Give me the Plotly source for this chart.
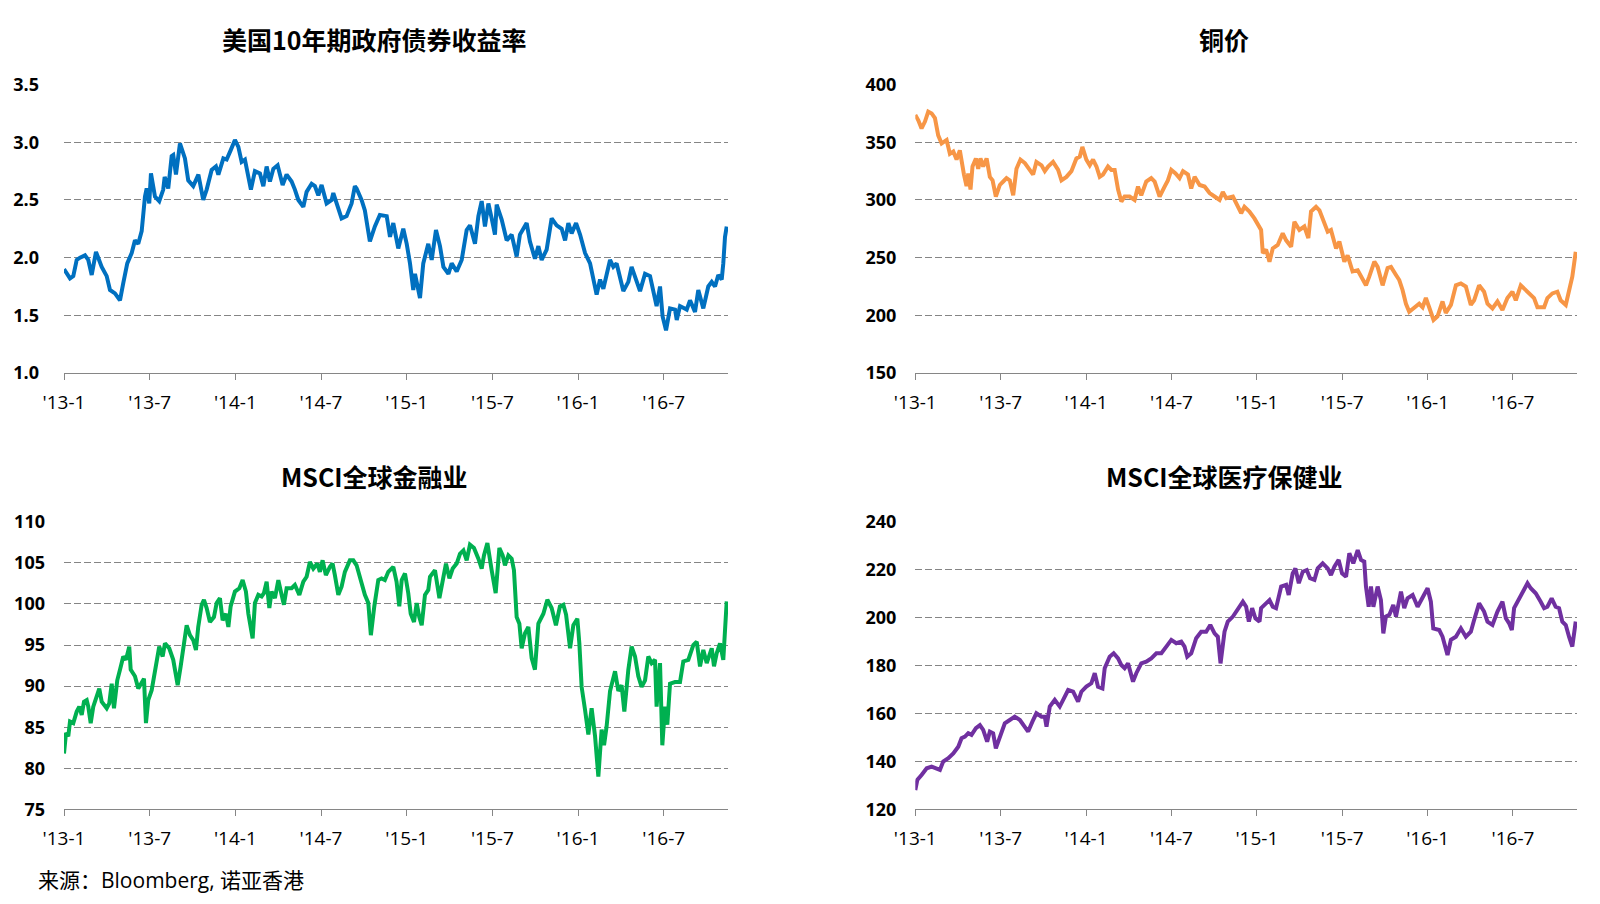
import plotly.graph_objects as go

# x positions are months since Jan 2013
tick_months = [0, 6, 12, 18, 24, 30, 36, 42]
tick_labels = ["'13-1", "'13-7", "'14-1", "'14-7", "'15-1", "'15-7", "'16-1", "'16-7"]

titles = ["美国10年期政府债券收益率", "铜价", "MSCI全球金融业", "MSCI全球医疗保健业"]
source_text = "来源：Bloomberg, 诺亚香港"

# US 10Y treasury yield (%)
yield_data = [
    (0, 1.90), (0.42, 1.82), (0.65, 1.84), (0.89, 1.98), (1.12, 2.00), (1.47, 2.02), (1.70, 1.98),
    (1.94, 1.85), (2.24, 2.05), (2.64, 1.92), (2.99, 1.84), (3.22, 1.72), (3.57, 1.69), (3.92, 1.63),
    (4.15, 1.78), (4.43, 1.95), (4.74, 2.04), (4.97, 2.15), (5.20, 2.12), (5.44, 2.23), (5.67, 2.53),
    (5.79, 2.60), (5.97, 2.47), (6.09, 2.73), (6.37, 2.53), (6.67, 2.49), (6.95, 2.59), (7.05, 2.70),
    (7.30, 2.60), (7.54, 2.88), (7.65, 2.89), (7.84, 2.72), (8.12, 2.99), (8.47, 2.86), (8.70, 2.67),
    (9.05, 2.62), (9.41, 2.72), (9.75, 2.50), (9.99, 2.59), (10.34, 2.76), (10.64, 2.79), (10.81, 2.72),
    (11.16, 2.86), (11.39, 2.85), (11.67, 2.93), (11.97, 3.02), (12.21, 2.96), (12.44, 2.83), (12.67, 2.85),
    (13.09, 2.59), (13.37, 2.75), (13.72, 2.73), (13.96, 2.62), (14.19, 2.79), (14.42, 2.66), (14.66, 2.77),
    (14.96, 2.80), (15.31, 2.63), (15.59, 2.72), (15.94, 2.66), (16.17, 2.59), (16.41, 2.50), (16.76, 2.44),
    (16.99, 2.57), (17.34, 2.64), (17.57, 2.62), (17.81, 2.54), (18.04, 2.63), (18.39, 2.47), (18.74, 2.50),
    (18.86, 2.56), (19.09, 2.46), (19.44, 2.34), (19.79, 2.36), (20.14, 2.47), (20.37, 2.62), (20.49, 2.60),
    (20.84, 2.50), (21.07, 2.41), (21.42, 2.14), (21.77, 2.27), (22.12, 2.37), (22.60, 2.36), (22.83, 2.18),
    (23.06, 2.30), (23.41, 2.08), (23.76, 2.25), (24.00, 2.12), (24.23, 1.95), (24.46, 1.72), (24.58, 1.86),
    (24.93, 1.65), (25.16, 1.95), (25.51, 2.12), (25.75, 1.98), (26.05, 2.24), (26.33, 2.10), (26.57, 1.92),
    (26.92, 1.86), (27.15, 1.95), (27.50, 1.88), (27.85, 1.98), (28.20, 2.24), (28.43, 2.28), (28.78, 2.12),
    (29.02, 2.36), (29.25, 2.49), (29.48, 2.27), (29.72, 2.47), (29.95, 2.34), (30.18, 2.20), (30.30, 2.46),
    (30.65, 2.33), (31.00, 2.15), (31.35, 2.20), (31.70, 2.01), (31.93, 2.20), (32.40, 2.30), (32.63, 2.14),
    (32.98, 1.99), (33.22, 2.10), (33.45, 1.98), (33.80, 2.07), (34.15, 2.34), (34.50, 2.28), (34.85, 2.25),
    (35.09, 2.15), (35.32, 2.30), (35.55, 2.21), (35.86, 2.30), (36.14, 2.20), (36.49, 2.04), (36.84, 1.95),
    (37.30, 1.68), (37.54, 1.81), (37.77, 1.73), (38.24, 1.98), (38.47, 1.92), (38.70, 1.95), (39.17, 1.71),
    (39.52, 1.79), (39.75, 1.92), (39.99, 1.84), (40.34, 1.71), (40.69, 1.86), (41.04, 1.84), (41.50, 1.58),
    (41.74, 1.75), (41.92, 1.49), (42.16, 1.37), (42.44, 1.56), (42.79, 1.55), (42.91, 1.46), (43.14, 1.58),
    (43.61, 1.55), (43.84, 1.63), (44.19, 1.53), (44.42, 1.72), (44.77, 1.56), (45.12, 1.75), (45.36, 1.79),
    (45.59, 1.75), (45.82, 1.85), (46.06, 1.81), (46.17, 1.95), (46.29, 2.18), (46.41, 2.27),
]

# Copper price
copper_data = [
    (0, 373.7), (0.21, 369), (0.44, 362), (0.68, 368), (0.91, 376.6), (1.15, 375), (1.38, 371), (1.61, 356),
    (1.85, 349), (2.20, 352), (2.43, 340), (2.67, 342), (2.90, 335), (3.13, 343), (3.42, 322), (3.60, 312),
    (3.72, 323), (3.88, 309), (4.02, 329), (4.26, 336), (4.42, 327), (4.58, 336), (4.77, 329), (5.01, 336),
    (5.24, 320), (5.43, 317), (5.66, 303), (5.94, 313), (6.18, 316), (6.41, 319), (6.64, 317), (6.88, 304),
    (7.11, 327), (7.39, 335), (7.70, 332), (8.05, 325), (8.28, 322), (8.51, 333), (8.87, 330), (9.10, 325),
    (9.33, 329), (9.68, 333), (10.04, 326), (10.27, 317), (10.62, 320), (10.97, 325), (11.32, 336),
    (11.56, 337.6), (11.74, 346), (12.02, 335), (12.26, 330), (12.49, 335), (12.73, 329), (12.96, 320),
    (13.19, 322), (13.54, 329), (13.78, 326), (14.01, 326), (14.25, 309), (14.48, 298.6), (14.71, 303),
    (15.06, 303), (15.41, 300), (15.65, 311.6), (15.88, 304), (16.23, 316), (16.58, 319), (16.82, 316),
    (17.17, 303), (17.52, 311.6), (17.75, 317), (17.99, 326), (18.29, 323), (18.57, 319), (18.81, 325),
    (19.16, 322), (19.39, 310), (19.63, 320), (19.98, 313), (20.33, 311.6), (20.68, 306), (21.03, 303),
    (21.38, 300), (21.61, 307), (21.85, 301.5), (22.32, 303), (22.90, 288.5), (23.13, 294), (23.48, 290),
    (23.83, 284), (24.30, 274), (24.42, 254), (24.65, 257), (24.89, 246.5), (25.12, 258), (25.47, 261),
    (25.82, 271), (26.06, 265), (26.41, 259.5), (26.64, 281), (26.99, 274), (27.34, 277), (27.62, 267),
    (27.81, 290), (28.16, 294), (28.40, 291), (28.75, 280), (28.98, 272.5), (29.21, 274), (29.57, 258),
    (29.80, 264), (30.15, 246.5), (30.38, 252), (30.73, 238), (31.09, 239), (31.32, 233.5), (31.67, 226),
    (31.90, 233.5), (32.26, 246.5), (32.49, 242), (32.84, 226), (33.19, 241), (33.43, 242), (33.78, 235),
    (34.01, 230.6), (34.24, 222), (34.48, 210), (34.71, 203), (35.06, 206), (35.41, 210), (35.65, 207),
    (35.88, 215), (36.11, 207), (36.42, 196), (36.70, 199), (37.05, 212), (37.28, 202), (37.64, 209),
    (37.99, 226), (38.34, 227.6), (38.69, 225), (39.04, 209), (39.27, 213), (39.62, 226), (39.97, 220.5),
    (40.21, 210), (40.56, 206), (40.91, 212), (41.26, 204.6), (41.61, 215), (41.96, 220.5), (42.20, 213),
    (42.55, 226), (42.90, 222), (43.25, 217.6), (43.48, 215), (43.72, 207), (44.19, 207), (44.42, 215),
    (44.77, 219), (45.12, 220.5), (45.35, 213), (45.71, 209), (45.94, 222), (46.17, 233.5), (46.41, 255),
]

# MSCI World Financials
fin_data = [
    (0, 81.8), (0.14, 84.3), (0.30, 83.9), (0.42, 85.7), (0.65, 85.5), (0.89, 86.9), (1.07, 87.5), (1.24, 86.5),
    (1.40, 88.1), (1.59, 88.3), (1.70, 87.5), (1.87, 85.5), (2.05, 87.5), (2.29, 88.9), (2.47, 89.7),
    (2.64, 88.1), (2.99, 87.3), (3.17, 87.9), (3.34, 90.3), (3.50, 87.3), (3.73, 90.7), (3.92, 92.0),
    (4.15, 93.6), (4.34, 93.2), (4.57, 94.8), (4.67, 92.0), (4.97, 91.2), (5.20, 89.7), (5.44, 90.3),
    (5.60, 90.9), (5.74, 85.5), (5.90, 88.3), (6.14, 89.5), (6.37, 92.0), (6.67, 94.8), (6.91, 93.6),
    (7.07, 95.2), (7.37, 94.6), (7.65, 93.2), (7.77, 92.0), (7.96, 90.1), (8.17, 92.4), (8.40, 95.2),
    (8.59, 97.4), (8.82, 96.2), (9.05, 95.6), (9.24, 94.4), (9.40, 97.2), (9.64, 99.9), (9.80, 100.5),
    (9.99, 99.5), (10.22, 97.8), (10.50, 98.4), (10.69, 100.1), (10.92, 100.7), (11.11, 98.0), (11.34, 98.8),
    (11.51, 97.2), (11.67, 99.7), (11.97, 101.5), (12.28, 101.9), (12.51, 102.9), (12.74, 101.5),
    (12.91, 98.8), (13.21, 95.8), (13.37, 100.1), (13.61, 101.1), (13.84, 100.9), (14.00, 101.3),
    (14.19, 102.7), (14.38, 99.5), (14.54, 101.5), (14.77, 100.7), (15.01, 102.9), (15.24, 101.1),
    (15.40, 99.9), (15.59, 101.9), (15.94, 101.9), (16.17, 102.3), (16.48, 101.1), (16.76, 102.7),
    (16.99, 103.3), (17.22, 105.1), (17.46, 104.3), (17.74, 104.9), (17.92, 103.9), (18.11, 105.3),
    (18.34, 103.5), (18.62, 104.5), (18.81, 104.9), (18.97, 103.5), (19.21, 101.1), (19.44, 102.1),
    (19.67, 103.9), (20.02, 105.3), (20.26, 105.3), (20.49, 104.7), (20.72, 103.3), (21.07, 101.1),
    (21.31, 100.1), (21.49, 96.2), (21.73, 99.7), (22.01, 102.9), (22.24, 103.1), (22.47, 102.9),
    (22.71, 103.9), (23.06, 104.5), (23.29, 102.7), (23.48, 99.7), (23.65, 102.9), (23.88, 103.7),
    (24.11, 101.3), (24.28, 98.8), (24.51, 97.8), (24.70, 100.1), (24.88, 98.4), (25.05, 97.4),
    (25.28, 101.1), (25.51, 101.7), (25.63, 103.3), (25.98, 104.1), (26.29, 100.7), (26.52, 103.1),
    (26.75, 104.9), (26.99, 103.1), (27.22, 104.3), (27.50, 104.9), (27.73, 106.1), (27.97, 106.5),
    (28.20, 105.3), (28.43, 107.2), (28.71, 106.8), (29.02, 105.5), (29.25, 104.3), (29.41, 105.9),
    (29.65, 107.4), (29.95, 104.1), (30.23, 101.3), (30.49, 106.8), (30.72, 105.9), (30.88, 104.7),
    (31.12, 105.9), (31.35, 105.5), (31.51, 104.1), (31.70, 98.4), (31.89, 97.6), (32.05, 94.6),
    (32.28, 96.4), (32.52, 97.2), (32.75, 93.4), (32.98, 92.0), (33.22, 97.6), (33.57, 98.8),
    (33.85, 100.5), (34.15, 99.5), (34.45, 97.4), (34.73, 99.7), (34.97, 99.9), (35.16, 98.7),
    (35.44, 94.6), (35.67, 97.4), (35.95, 98.2), (36.09, 95.2), (36.25, 89.9), (36.49, 87.1),
    (36.72, 84.1), (36.95, 87.3), (37.19, 83.9), (37.42, 79.0), (37.65, 84.7), (37.82, 82.8),
    (38.00, 85.1), (38.24, 89.4), (38.59, 91.8), (38.82, 89.4), (39.05, 90.1), (39.24, 86.9),
    (39.52, 92.0), (39.75, 94.8), (39.99, 93.6), (40.22, 91.2), (40.45, 89.9), (40.69, 90.7),
    (40.92, 93.6), (41.15, 92.8), (41.39, 93.2), (41.50, 87.5), (41.74, 92.8), (41.90, 82.8),
    (42.09, 87.5), (42.25, 85.3), (42.44, 90.3), (42.79, 90.5), (43.14, 90.5), (43.37, 93.0),
    (43.72, 93.2), (44.07, 95.0), (44.31, 95.4), (44.54, 92.4), (44.77, 94.4), (45.01, 92.8),
    (45.36, 94.6), (45.52, 92.4), (45.71, 94.0), (45.94, 95.2), (46.17, 93.2), (46.41, 100.3),
]

# MSCI World Health Care
health_data = [
    (0, 128.0), (0.14, 132.2), (0.44, 134.3), (0.80, 137.1), (1.15, 137.8), (1.50, 137.1), (1.73, 136.4),
    (1.96, 139.9), (2.32, 141.3), (2.67, 143.3), (3.02, 146.1), (3.25, 149.6), (3.49, 150.3), (3.72, 151.7),
    (3.95, 151.0), (4.26, 153.8), (4.54, 155.1), (4.77, 153.1), (5.05, 148.2), (5.24, 152.4), (5.47, 151.7),
    (5.66, 145.4), (5.94, 149.6), (6.29, 155.8), (6.64, 157.2), (6.99, 158.6), (7.35, 157.2), (7.70, 154.4),
    (7.93, 152.4), (8.23, 156.5), (8.51, 160.0), (8.87, 158.6), (9.10, 158.6), (9.22, 154.4), (9.45, 162.8),
    (9.80, 165.6), (10.15, 162.8), (10.39, 165.6), (10.74, 169.7), (11.09, 169.0), (11.44, 164.9),
    (11.67, 169.0), (12.02, 171.1), (12.37, 172.5), (12.61, 176.7), (12.84, 171.1), (13.15, 170.4),
    (13.31, 178.8), (13.66, 183.6), (13.94, 185.0), (14.25, 182.9), (14.48, 180.1), (14.71, 178.8),
    (14.95, 180.8), (15.30, 173.2), (15.53, 176.7), (15.88, 180.8), (16.23, 181.5), (16.58, 182.9),
    (16.94, 185.0), (17.29, 185.0), (17.64, 187.8), (17.99, 190.6), (18.34, 189.2), (18.69, 189.9),
    (18.92, 187.8), (19.11, 183.6), (19.39, 185.0), (19.74, 191.3), (20.09, 194.0), (20.44, 194.0),
    (20.73, 196.8), (21.03, 193.3), (21.26, 191.9), (21.45, 180.8), (21.73, 194.0), (21.96, 198.2),
    (22.32, 200.3), (22.66, 203.1), (23.02, 206.5), (23.25, 204.4), (23.44, 198.2), (23.67, 203.8),
    (23.90, 199.6), (24.19, 198.2), (24.30, 203.8), (24.65, 205.8), (24.89, 207.2), (25.12, 204.4),
    (25.35, 203.8), (25.71, 212.8), (26.06, 213.5), (26.24, 209.3), (26.52, 218.3), (26.71, 220.4),
    (26.95, 214.2), (27.23, 219.0), (27.51, 219.7), (27.74, 216.3), (28.05, 215.6), (28.28, 220.4),
    (28.63, 222.5), (28.98, 220.4), (29.21, 217.6), (29.45, 221.1), (29.75, 223.9), (29.99, 218.3),
    (30.27, 216.9), (30.50, 226.7), (30.78, 222.5), (31.09, 228.0), (31.32, 223.9), (31.55, 223.2),
    (31.67, 212.8), (31.86, 204.4), (32.02, 212.8), (32.19, 204.4), (32.49, 212.8), (32.72, 207.2),
    (32.89, 193.3), (33.07, 200.3), (33.31, 201.0), (33.59, 205.1), (33.78, 200.3), (34.13, 210.7),
    (34.36, 203.8), (34.59, 207.9), (34.95, 209.3), (35.30, 204.4), (35.65, 208.6), (36.00, 212.1),
    (36.23, 206.5), (36.40, 195.4), (36.82, 194.7), (37.05, 191.9), (37.40, 184.3), (37.64, 190.6),
    (37.99, 191.9), (38.34, 195.4), (38.69, 191.9), (39.04, 194.0), (39.27, 198.9), (39.62, 205.8),
    (39.97, 202.4), (40.21, 198.2), (40.56, 196.8), (40.91, 202.4), (41.26, 206.5), (41.50, 199.6),
    (41.73, 197.5), (41.92, 194.7), (42.08, 203.8), (42.43, 207.9), (42.78, 211.4), (43.02, 214.2),
    (43.25, 212.1), (43.60, 210.0), (43.95, 206.5), (44.19, 203.8), (44.42, 204.4), (44.72, 207.9),
    (45.00, 204.4), (45.24, 203.8), (45.47, 198.2), (45.71, 196.8), (45.94, 191.9), (46.17, 187.8),
    (46.41, 198.2),
]

series = [yield_data, copper_data, fin_data, health_data]
colors = ["#0070C0", "#F79646", "#00B050", "#7030A0"]
y_ranges = [(1.0, 3.5), (150, 400), (75, 110), (120, 240)]
y_dticks = [0.5, 50, 5, 20]
y_formats = [".1f", "d", "d", "d"]

W, H = 1600, 904
# plot areas in pixels: (left, right, top, bottom)
areas = [(64, 728, 84.6, 373), (915.3, 1577, 84.6, 373), (64, 728, 521.7, 809.4), (915.3, 1577, 521.3, 809.3)]
label_standoff = [24, 18, 18, 18]
title_pos = [(374, 39), (1224, 39), (374, 476), (1224, 476)]

FONT = "Open Sans, Noto Sans CJK SC, sans-serif"
CJK = "Noto Sans CJK SC, sans-serif"

fig = go.Figure()
layout = dict(width=W, height=H, margin=dict(l=0, r=0, t=0, b=0, autoexpand=False),
              paper_bgcolor="white", plot_bgcolor="white", showlegend=False,
              font=dict(family=FONT, color="black"))
annotations = []
for i, data in enumerate(series):
    xs = [p[0] for p in data]
    ys = [p[1] for p in data]
    sfx = "" if i == 0 else str(i + 1)
    fig.add_trace(go.Scatter(x=xs, y=ys, mode="lines", xaxis="x" + sfx, yaxis="y" + sfx,
                             line=dict(color=colors[i], width=4), hoverinfo="skip"))
    l, r, t, b = areas[i]
    layout["xaxis" + sfx] = dict(
        domain=[l / W, r / W], range=[0, 46.5], anchor="y" + sfx, automargin=False,
        tickmode="array", tickvals=tick_months, ticktext=tick_labels,
        showgrid=False, zeroline=False, showline=True, linecolor="#868686", linewidth=1,
        ticks="outside", ticklen=6, tickcolor="#868686", ticklabelstandoff=6,
        tickfont=dict(size=19, family=FONT, color="black"))
    layout["yaxis" + sfx] = dict(
        domain=[1 - b / H, 1 - t / H], range=list(y_ranges[i]), anchor="x" + sfx, automargin=False,
        dtick=y_dticks[i], tick0=y_ranges[i][0], tickformat=y_formats[i],
        showgrid=True, gridcolor="#858585", gridwidth=1, griddash="7px,3px",
        zeroline=False, showline=False, ticks="", ticklabelstandoff=label_standoff[i],
        tickfont=dict(size=18, family=FONT, color="black", weight="bold"))
    tx, ty = title_pos[i]
    annotations.append(dict(text=titles[i], x=tx / W, y=1 - ty / H, xref="paper", yref="paper",
                            xanchor="center", yanchor="middle", showarrow=False,
                            font=dict(size=25, family=CJK, color="black", weight="bold")))

annotations.append(dict(text=source_text, x=36 / W, y=1 - 880 / H, xref="paper", yref="paper",
                        xanchor="left", yanchor="middle", showarrow=False,
                        font=dict(size=21, family=FONT, color="black")))
layout["annotations"] = annotations
fig.update_layout(**layout)
fig.write_html("out.html")
